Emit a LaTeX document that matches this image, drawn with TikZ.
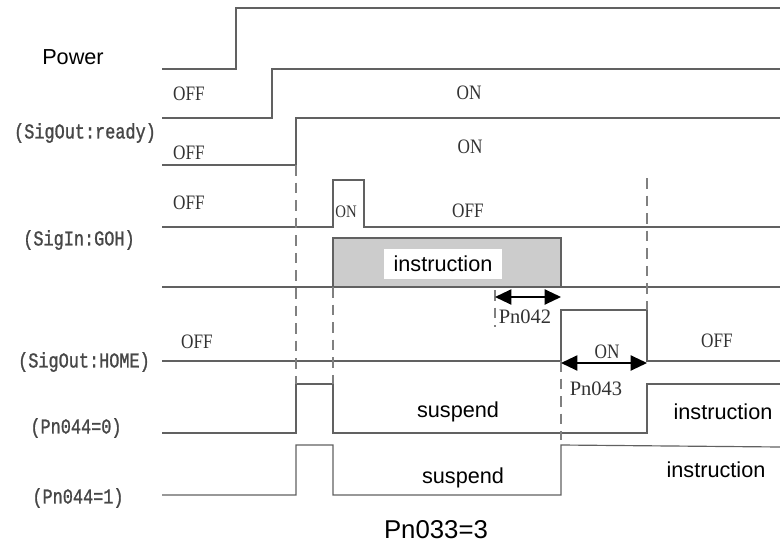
\documentclass[tikz,border=0pt]{standalone}
\usepackage{fontspec}
\setmainfont{Liberation Serif}
\newfontfamily\sigfont[FakeBold=1.2, FakeStretch=0.8]{Liberation Mono}
\newfontfamily\statefont[FakeStretch=0.84]{Liberation Serif}
\newfontfamily\wordfont{Liberation Sans}
\usetikzlibrary{arrows.meta}

\begin{document}
\begin{tikzpicture}[
  x=0.3mm, y=-0.3mm,
  wave/.style={draw=black!62, line width=1pt},
  guide/.style={draw=black!50, line width=1pt, dash pattern=on 9pt off 6pt},
  siglabel/.style={font=\sigfont\fontsize{18}{20}\selectfont, text=black!72},
  statelabel/.style={font=\statefont\fontsize{17.5}{18}\selectfont, text=black!80},
  parlabel/.style={font=\fontsize{17.5}{20}\selectfont, text=black!80},
  wordlabel/.style={font=\wordfont\fontsize{18.5}{20}\selectfont},
  arr/.style={{Triangle[length=14pt,width=13pt]}-{Triangle[length=14pt,width=13pt]}, draw=black, line width=1.3pt},
]
\fill[white] (0,0) rectangle (780,547);
\useasboundingbox (0,0) rectangle (780,547);

%% Signal names
\node[wordlabel] (power) at (73,57) {Power};
\node[siglabel] (ready) at (85,133) {(SigOut:ready)};
\node[siglabel] (goh)   at (79,240) {(SigIn:GOH)};
\node[siglabel] (home)  at (84,362) {(SigOut:HOME)};
\node[siglabel] (pzero) at (76,428) {(Pn044=0)};
\node[siglabel] (pone)  at (78,498) {(Pn044=1)};

%% Waveforms
\draw[wave] (162,69) -- (236,69) -- (236,8) -- (780,8);
\draw[wave] (162,118) -- (272,118) -- (272,69) -- (780,69);
\draw[wave] (162,165) -- (296,165) -- (296,118) -- (780,118);
\draw[wave] (162,227) -- (333,227) -- (333,180) -- (364,180) -- (364,227) -- (780,227);
\draw[wave, fill=black!20] (333,238) rectangle (561,287);
\draw[wave] (162,287) -- (780,287);
\draw[wave] (162,361) -- (561,361) -- (561,310) -- (647,310) -- (647,361) -- (780,361);
\draw[wave] (162,433) -- (296,433) -- (296,384) -- (333,384) -- (333,433) -- (647,433) -- (647,384) -- (780,384);
\draw[wave] (162,495) -- (296,495) -- (296,445) -- (333,445) -- (333,495) -- (561,495) -- (561,445) -- (780,447);

%% Guides
\draw[guide] (296,165) -- (296,384);
\draw[guide] (333,287) -- (333,384);
\draw[guide] (647,178) -- (647,310);
\draw[guide] (561,361) -- (561,440);
\draw[guide] (495,290) -- (495,327);

%% States
\node[statelabel] (off1) at (189,94)  {OFF};
\node[statelabel] (on1)  at (469,93)  {ON};
\node[statelabel] (off2) at (189,153) {OFF};
\node[statelabel] (on2)  at (470,147) {ON};
\node[statelabel] (off3) at (189,203) {OFF};
\node[statelabel, font=\statefont\fontsize{15}{16}\selectfont] (on3) at (346,212) {ON};
\node[statelabel] (off4) at (468,211) {OFF};
\node[statelabel] (off5) at (197,342) {OFF};
\node[statelabel] (on5)  at (607,352) {ON};
\node[statelabel] (off6) at (717,341) {OFF};

%% Instruction box text
\node[wordlabel, fill=white, text width=96pt, align=center, inner sep=2pt, minimum height=9mm] (instr) at (443,264) {instruction};

%% Delays
\coordinate (dlyA) at (495,297);
\coordinate (dlyB) at (561,297);
\draw[arr] (dlyA) -- (dlyB);
\node[parlabel] (pn42) at (525,317) {Pn042};
\coordinate (homeA) at (561,363);
\coordinate (homeB) at (647,363);
\draw[arr] (homeA) -- (homeB);
\node[parlabel] (pn43) at (596,389) {Pn043};

%% Motion
\node[wordlabel] (susp0) at (458,412) {suspend};
\node[wordlabel] (inst0) at (723,412) {instruction};
\node[wordlabel] (susp1) at (463,478) {suspend};
\node[wordlabel] (inst1) at (716,470) {instruction};

%% Caption
\node[wordlabel, font=\wordfont\fontsize{22}{24}\selectfont] (capt) at (436,530) {Pn033=3};

\end{tikzpicture}
\end{document}
